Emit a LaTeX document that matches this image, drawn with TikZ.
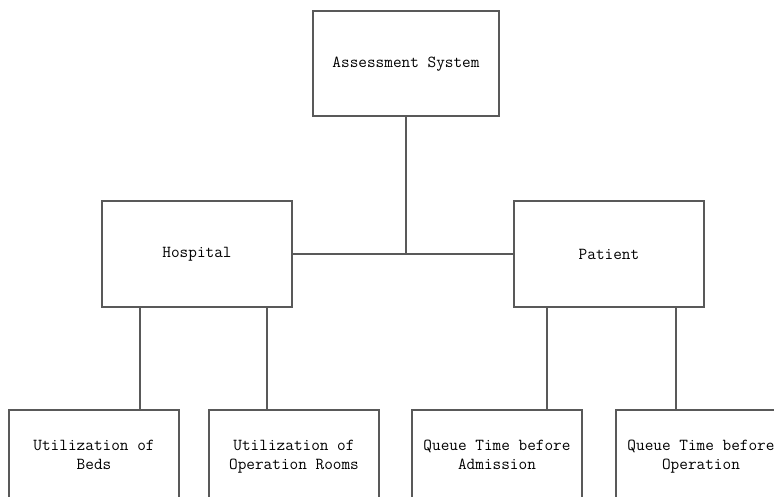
\documentclass[tikz,border=0pt]{standalone}
\usepackage{fontspec}
\begin{document}
\begin{tikzpicture}[x=1pt, y=-1pt,
    box/.style={draw=black!65, line width=2pt, rectangle, fill=white, inner sep=0pt,
      align=center, font=\ttfamily\fontsize{16.8}{18.5}\selectfont},
    bigbox/.style={box, minimum width=186pt, minimum height=105pt},
    leafbox/.style={box, minimum width=170pt, minimum height=95pt, text depth=4pt},
    link/.style={draw=black!65, line width=2pt}]
  \path[use as bounding box, clip] (0,0) rectangle (774,497);
  \node (sys) [bigbox] at (406,64) {Assessment System};
  \node (hosp) [bigbox, minimum width=190pt] at (197,254) {Hospital};
  \node (pat) [bigbox, minimum width=190pt] at (609,254) {Patient};
  \node (beds) [leafbox] at (94,457) {Utilization of\\Beds};
  \node (rooms) [leafbox] at (294,457) {Utilization of\\Operation Rooms};
  \node (adm) [leafbox] at (497,457) {Queue Time before\\Admission};
  \node (oper) [leafbox] at (701,457) {Queue Time before\\Operation};
  \draw[link] (hosp.east) -- (pat.west);
  \draw[link] (sys.south) -- (sys.south |- hosp.east);
  \draw[link] ([xshift=39pt]hosp.south west) -- ([xshift=39pt]hosp.south west |- beds.north);
  \draw[link] ([xshift=-26pt]hosp.south east) -- ([xshift=-26pt]hosp.south east |- rooms.north);
  \draw[link] ([xshift=34pt]pat.south west) -- ([xshift=34pt]pat.south west |- adm.north);
  \draw[link] ([xshift=-29pt]pat.south east) -- ([xshift=-29pt]pat.south east |- oper.north);
\end{tikzpicture}
\end{document}
